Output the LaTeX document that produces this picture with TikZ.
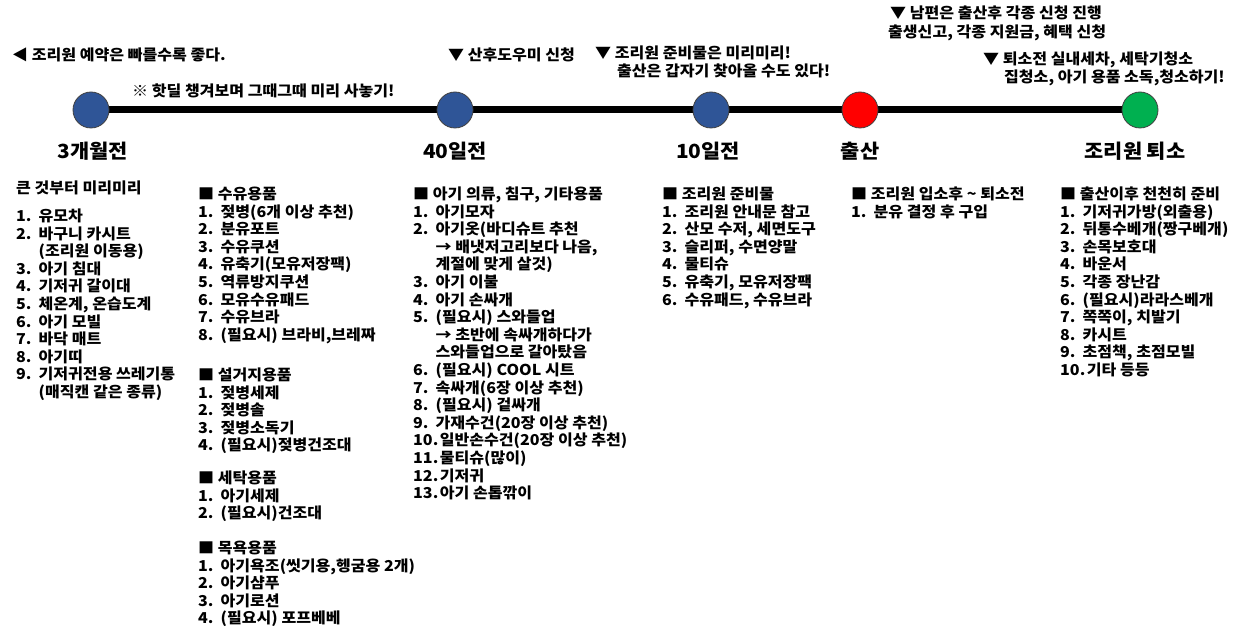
\documentclass[tikz,border=0pt]{standalone}
\usepackage{fontspec}
\setmainfont{Noto Sans CJK KR}[FakeStretch=1.07]
\usetikzlibrary{backgrounds}
\definecolor{dotblue}{HTML}{2F5597}
\definecolor{dotred}{HTML}{FF0000}
\definecolor{dotgreen}{HTML}{00B050}
\newlength\numw
\newcommand{\itm}[2]{\hbox{\settowidth\numw{#1}\ifdim\numw>20pt #1\hspace{1.5pt}\else\makebox[22.5pt][l]{#1}\fi#2}}
\newcommand{\cnt}[1]{\hbox{\hspace*{22.5pt}#1}}
\newcommand{\rw}[1]{\hbox{#1}}
\begin{document}
\begin{tikzpicture}[x=1pt,y=-1pt,
  txt/.style={inner sep=0pt, anchor=base west, font=\fontsize{15}{17.6}\selectfont\bfseries},
  lbl/.style={inner sep=0pt, anchor=base, font=\fontsize{19.5}{22}\selectfont\bfseries},
  dot/.style={circle, minimum size=36pt, inner sep=0pt, draw=black!75, line width=0.8pt}]
\useasboundingbox (0,0) rectangle (1248,636);

% timeline
\node[dot, fill=dotblue]  (c1) at (91,110) {};
\node[dot, fill=dotblue]  (c2) at (455,110) {};
\node[dot, fill=dotblue]  (c3) at (711,110) {};
\node[dot, fill=dotred]   (c4) at (860,110) {};
\node[dot, fill=dotgreen] (c5) at (1140,110) {};
\begin{pgfonlayer}{background}
\draw[line width=7pt] (c1.center) -- (c5.center);
\end{pgfonlayer}

\node[lbl] (l1) at (93,159) {3개월전};
\node[lbl] (l2) at (455,159) {40일전};
\node[lbl] (l3) at (708,159) {10일전};
\node[lbl] (l4) at (860,159) {출산};
\node[lbl] (l5) at (1135,159) {조리원 퇴소};

% top notes
\node[txt] (n1) at (12,60.5) {◀ 조리원 예약은 빠를수록 좋다.};
\node[txt] (n2) at (132,96.5) {※ 핫딜 챙겨보며 그때그때 미리 사놓기!};
\node[txt] (n3) at (448,60.5) {▼ 산후도우미 신청};
\node[txt] (n4a) at (595,58.5) {▼ 조리원 준비물은 미리미리!};
\node[txt] (n4b) at (617,76.5) {출산은 갑자기 찾아올 수도 있다!};
\node[txt] (n5a) at (890,18.5) {▼ 남편은 출산후 각종 신청 진행};
\node[txt] (n5b) at (888,37.5) {출생신고, 각종 지원금, 혜택 신청};
\node[txt] (n6a) at (983,64.5) {▼ 퇴소전 실내세차, 세탁기청소};
\node[txt] (n6b) at (1004,82.5) {집청소, 아기 용품 소독,청소하기!};

% column 1
\node[txt] (h1) at (16,193.5) {큰 것부터 미리미리};
\node[txt] (k1) at (16,221.5) {\vtop{%
\itm{1.}{유모차}
\itm{2.}{바구니 카시트}
\cnt{(조리원 이동용)}
\itm{3.}{아기 침대}
\itm{4.}{기저귀 갈이대}
\itm{5.}{체온계, 온습도계}
\itm{6.}{아기 모빌}
\itm{7.}{바닥 매트}
\itm{8.}{아기띠}
\itm{9.}{기저귀전용 쓰레기통}
\cnt{(매직캔 같은 종류)}}};

% column 2
\node[txt] (k2a) at (198,199.5) {\vtop{%
\rw{■ 수유용품}
\itm{1.}{젖병(6개 이상 추천)}
\itm{2.}{분유포트}
\itm{3.}{수유쿠션}
\itm{4.}{유축기(모유저장팩)}
\itm{5.}{역류방지쿠션}
\itm{6.}{모유수유패드}
\itm{7.}{수유브라}
\itm{8.}{(필요시) 브라비,브레짜}}};
\node[txt] (k2b) at (198,380.5) {\vtop{%
\rw{■ 설거지용품}
\itm{1.}{젖병세제}
\itm{2.}{젖병솔}
\itm{3.}{젖병소독기}
\itm{4.}{(필요시)젖병건조대}}};
\node[txt] (k2c) at (198,483.5) {\vtop{%
\rw{■ 세탁용품}
\itm{1.}{아기세제}
\itm{2.}{(필요시)건조대}}};
\node[txt] (k2d) at (198,553.5) {\vtop{%
\rw{■ 목욕용품}
\itm{1.}{아기욕조(씻기용,헹굼용 2개)}
\itm{2.}{아기샴푸}
\itm{3.}{아기로션}
\itm{4.}{(필요시) 포프베베}}};

% column 3
\node[txt] (k3) at (413,199.5) {\vtop{%
\rw{■ 아기 의류, 침구, 기타용품}
\itm{1.}{아기모자}
\itm{2.}{아기옷(바디슈트 추천}
\cnt{→ 배냇저고리보다 나음,}
\cnt{계절에 맞게 살것)}
\itm{3.}{아기 이불}
\itm{4.}{아기 손싸개}
\itm{5.}{(필요시) 스와들업}
\cnt{→ 초반에 속싸개하다가}
\cnt{스와들업으로 갈아탔음}
\itm{6.}{(필요시) COOL 시트}
\itm{7.}{속싸개(6장 이상 추천)}
\itm{8.}{(필요시) 겉싸개}
\itm{9.}{가재수건(20장 이상 추천)}
\itm{10.}{일반손수건(20장 이상 추천)}
\itm{11.}{물티슈(많이)}
\itm{12.}{기저귀}
\itm{13.}{아기 손톱깎이}}};

% column 4
\node[txt] (k4) at (662,199.5) {\vtop{%
\rw{■ 조리원 준비물}
\itm{1.}{조리원 안내문 참고}
\itm{2.}{산모 수저, 세면도구}
\itm{3.}{슬리퍼, 수면양말}
\itm{4.}{물티슈}
\itm{5.}{유축기, 모유저장팩}
\itm{6.}{수유패드, 수유브라}}};

% column 5
\node[txt] (k5) at (851,199.5) {\vtop{%
\rw{■ 조리원 입소후 \textasciitilde{} 퇴소전}
\itm{1.}{분유 결정 후 구입}}};

% column 6
\node[txt] (k6) at (1060,199.5) {\vtop{%
\rw{■ 출산이후 천천히 준비}
\itm{1.}{기저귀가방(외출용)}
\itm{2.}{뒤통수베개(짱구베개)}
\itm{3.}{손목보호대}
\itm{4.}{바운서}
\itm{5.}{각종 장난감}
\itm{6.}{(필요시)라라스베개}
\itm{7.}{쪽쪽이, 치발기}
\itm{8.}{카시트}
\itm{9.}{초점책, 초점모빌}
\itm{10.}{기타 등등}}};
\end{tikzpicture}
\end{document}
